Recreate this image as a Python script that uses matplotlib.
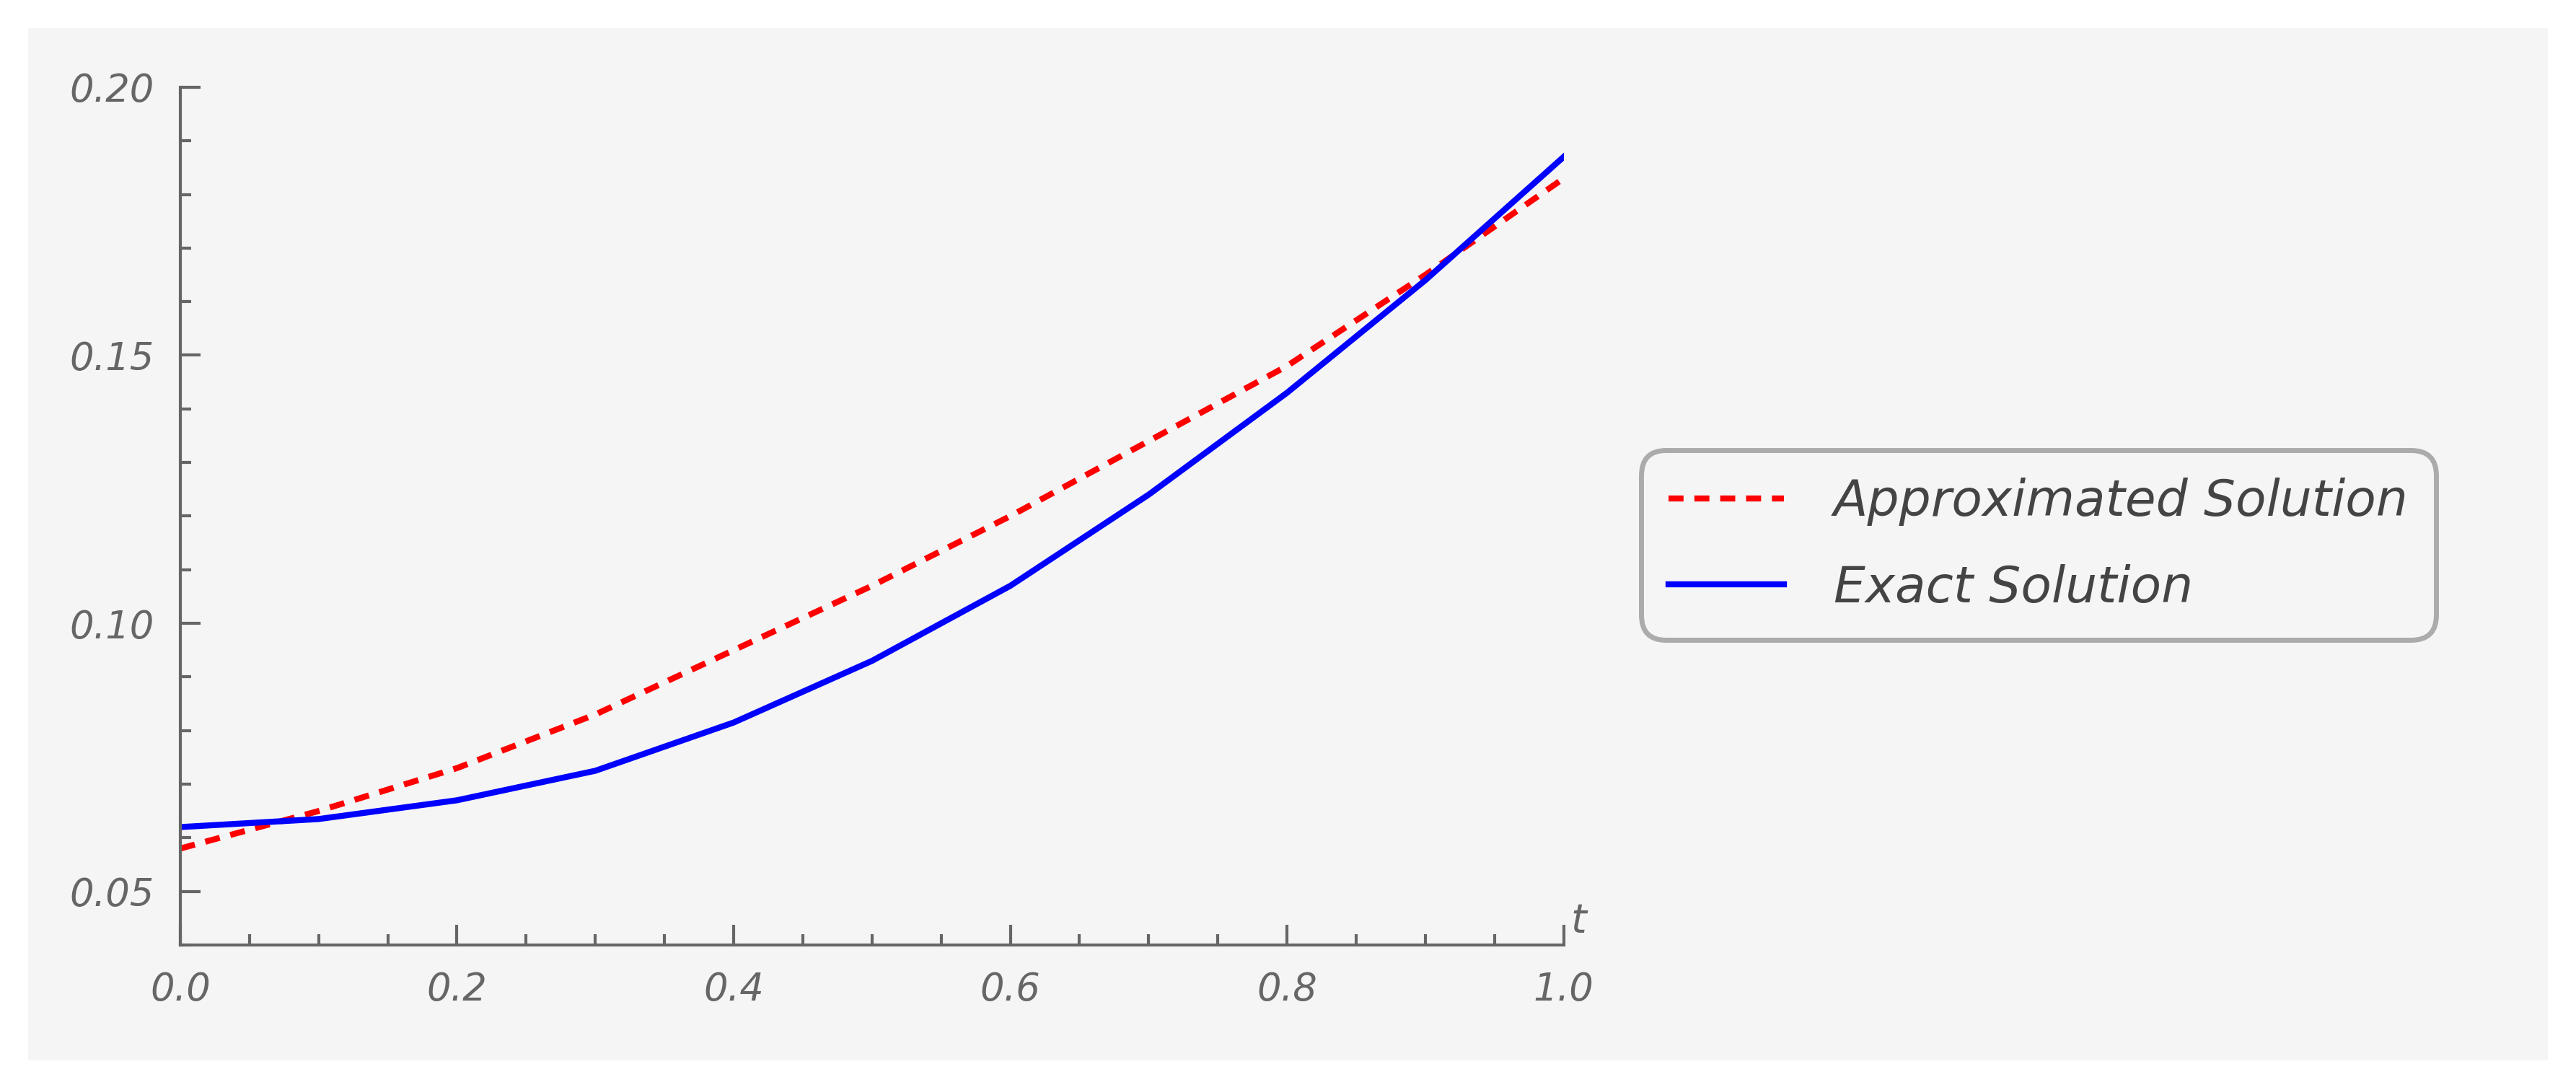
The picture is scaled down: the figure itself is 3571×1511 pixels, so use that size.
import numpy as np
import matplotlib.pyplot as plt
from matplotlib.ticker import MultipleLocator

# values
t = [0.0, 0.1, 0.2, 0.3, 0.4, 0.5, 0.6, 0.7, 0.8, 0.9, 1.0]
approx = [0.058, 0.065, 0.073, 0.083, 0.095, 0.107, 0.120, 0.134, 0.148, 0.165, 0.183]
exact = [0.062, 0.0635, 0.067, 0.0725, 0.0815, 0.093, 0.107, 0.124, 0.143, 0.164, 0.187]

gray = "#666666"
bg = "#f5f5f5"

fig = plt.figure(figsize=(35.71, 15.11), dpi=100)
fig.patch.set_facecolor("white")
fig.patches.append(plt.Rectangle((0.011, 0.027), 0.978, 0.947, transform=fig.transFigure,
                                 facecolor=bg, edgecolor="none", zorder=-10))

ax = fig.add_axes([0.070, 0.133, 0.537, 0.787])
ax.set_facecolor(bg)
ax.plot(t, approx, color="red", ls=(0, (2.5, 1.8)), lw=6, label="Approximated Solution")
ax.plot(t, exact, color="blue", lw=6, label="Exact Solution")
ax.set_xlim(0, 1.0)
ax.set_ylim(0.04, 0.20)

for s in ["top", "right"]:
    ax.spines[s].set_visible(False)
for s in ["left", "bottom"]:
    ax.spines[s].set_color(gray)
    ax.spines[s].set_linewidth(3)

ax.xaxis.set_minor_locator(MultipleLocator(0.05))
ax.yaxis.set_minor_locator(MultipleLocator(0.01))
ax.set_xticks([0.0, 0.2, 0.4, 0.6, 0.8, 1.0], ["0.0", "0.2", "0.4", "0.6", "0.8", "1.0"])
ax.set_yticks([0.05, 0.10, 0.15, 0.20], ["0.05", "0.10", "0.15", "0.20"])
ax.tick_params(which="major", direction="in", length=20, width=3, color=gray,
               labelcolor=gray, labelsize=38, pad=26)
ax.tick_params(which="minor", direction="in", length=11, width=3, color=gray)
for lab in ax.get_xticklabels() + ax.get_yticklabels():
    lab.set_fontstyle("italic")

ax.text(1.005, 0.041, "t", transform=ax.transData, fontsize=40, style="italic",
        color=gray, ha="left", va="bottom")

leg = fig.legend(loc="center left", bbox_to_anchor=(0.637, 0.50), fontsize=50,
                 frameon=True, fancybox=True, handlelength=2.3, handletextpad=1.0,
                 labelspacing=0.75, borderpad=0.55, borderaxespad=0)
leg.get_frame().set_edgecolor("#999999")
leg.get_frame().set_linewidth(5)
leg.get_frame().set_facecolor(bg)
leg.get_frame().set_boxstyle("round", pad=0, rounding_size=0.5)
for txt in leg.get_texts():
    txt.set_fontstyle("italic")
    txt.set_color("#444444")

fig.savefig("out.png", dpi=100, facecolor="white")
